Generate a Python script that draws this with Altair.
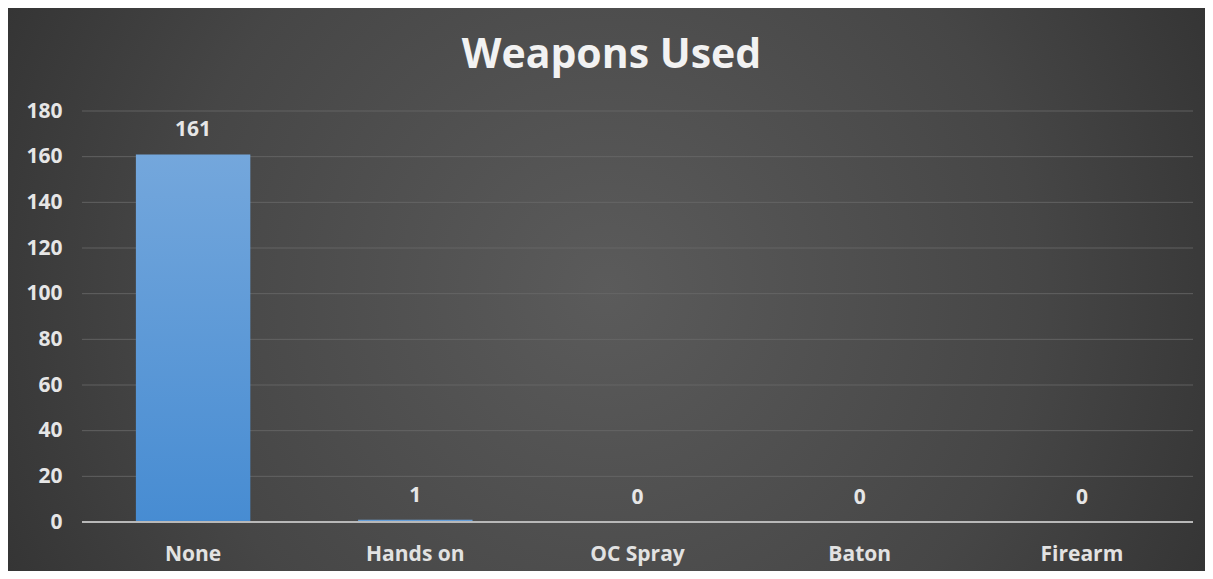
import altair as alt
import pandas as pd

categories = ["None", "Hands on", "OC Spray", "Baton", "Firearm"]
values = [161, 1, 0, 0, 0]
y_ticks = [20, 40, 60, 80, 100, 120, 140, 160, 180]
title_text = ["Weapons Used"]

df = pd.DataFrame({"weapon": categories, "count": values})
grid_df = pd.DataFrame({"t": y_ticks})

W, H = 1111, 411
PL, PT, PR, PB = 74, 103, 12, 49

bg = alt.Chart(pd.DataFrame({"a": [0]})).mark_rect(
    clip=False,
    fill=alt.Gradient(
        gradient="radial",
        x1=0.5, y1=0.5, r1=0.0,
        x2=0.5, y2=0.5, r2=0.72,
        stops=[
            alt.GradientStop(color="#5b5b5b", offset=0),
            alt.GradientStop(color="#464646", offset=0.5),
            alt.GradientStop(color="#262626", offset=1),
        ],
    ),
).encode(
    x=alt.value(-PL), x2=alt.value(W + PR),
    y=alt.value(-PT), y2=alt.value(H + PB),
)

y_scale = alt.Scale(domain=[0, 180], nice=False)
y_axis = alt.Axis(values=list(range(0, 181, 20)), labelColor="#e6e6e6",
                  labelFontSize=21, labelFontWeight="bold", labelPadding=20,
                  ticks=False, domain=False, grid=False, zindex=2,
                  labelFont="Open Sans")

grid = alt.Chart(grid_df).mark_rule(color="#6a6a6a", strokeWidth=1, opacity=0.8).encode(
    x=alt.value(0), x2=alt.value(W), y=alt.Y("t:Q", scale=y_scale, axis=y_axis, title=None)
)

x_enc = alt.X(
    "weapon:N", sort=categories, title=None,
    scale=alt.Scale(paddingInner=0.485, paddingOuter=0.2425),
    axis=alt.Axis(labelAngle=0, labelColor="#e2e2e2", labelFontSize=21,
                  labelFontWeight="bold", labelPadding=21, ticks=False,
                  domain=False, grid=False, zindex=2),
)
y_enc = alt.Y("count:Q", title=None, scale=y_scale, axis=y_axis)

bars = alt.Chart(df).mark_bar(
    color=alt.Gradient(
        gradient="linear", x1=0, y1=0, x2=0, y2=1,
        stops=[
            alt.GradientStop(color="#74a7dc", offset=0),
            alt.GradientStop(color="#478cd2", offset=1),
        ],
    ),
).encode(x=x_enc, y=y_enc)

labels = alt.Chart(df).mark_text(
    dy=-18, baseline="alphabetic", color="#e6e6e6", fontSize=21, fontWeight="bold",
    font="Open Sans",
).encode(x=alt.X("weapon:N", sort=categories, title=None),
         y=alt.Y("count:Q", scale=y_scale, axis=y_axis, title=None), text="count:Q")

baseline = alt.Chart(pd.DataFrame({"z": [0]})).mark_rule(
    color="#b8b8b8", strokeWidth=2
).encode(x=alt.value(0), x2=alt.value(W),
         y=alt.Y("z:Q", scale=y_scale, axis=y_axis, title=None))

title = alt.Chart(pd.DataFrame({"title": title_text})).mark_text(
    clip=False, align="center", baseline="alphabetic", fontSize=41,
    fontWeight="bold", color="#f2f2f2", font="Open Sans",
).encode(x=alt.value(529.5), y=alt.value(-43), text="title:N")

chart = alt.layer(bg, grid, bars, baseline, labels, title).properties(
    width=W, height=H,
    autosize=alt.AutoSizeParams(type="none"),
    padding={"left": PL, "top": PT, "right": PR, "bottom": PB},
).configure(
    background="#2a2a2a", font="Open Sans",
).configure_view(stroke=None).configure_axis(labelFont="Open Sans")

chart.save("out.html", embed_options={"renderer": "svg", "actions": False})
